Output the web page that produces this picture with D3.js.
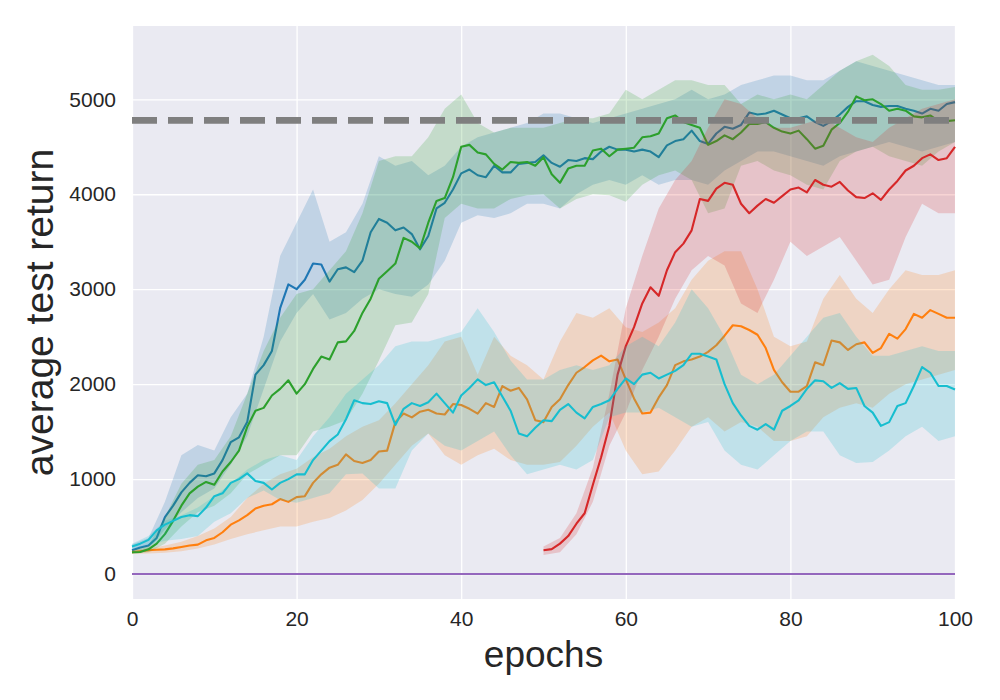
<!DOCTYPE html>
<html>
<head>
<meta charset="utf-8">
<script src="https://cdn.jsdelivr.net/npm/d3@7"></script>
<style>
  body { margin: 0; background: #ffffff; }
  text { font-family: "Liberation Sans", Arial, sans-serif; }
</style>
</head>
<body>
<svg id="chart" width="1000" height="700"></svg>
<script>
// mean curves, one value per epoch (index = epoch - start)
const blueMean = [250, 280, 300, 380, 600, 720, 860, 960, 1040, 1030, 1060, 1200, 1390, 1440, 1600, 2100, 2200, 2350, 2800, 3050,
  3000, 3100, 3270, 3260, 3080, 3210, 3230, 3180, 3300, 3600, 3740, 3700, 3620, 3650, 3580, 3420, 3560, 3850, 3910, 4050,
  4220, 4260, 4200, 4180, 4300, 4230, 4230, 4320, 4330, 4340, 4410, 4330, 4290, 4360, 4350, 4380, 4370, 4450, 4500, 4470,
  4470, 4450, 4470, 4450, 4390, 4515, 4560, 4580, 4670, 4560, 4530, 4640, 4710, 4690, 4730, 4860, 4840, 4850, 4880, 4840,
  4800, 4800, 4820, 4760, 4720, 4770, 4840, 4920, 4980, 4980, 4940, 4920, 4930, 4930, 4900, 4880, 4850, 4900, 4880, 4950, 4970];
const orangeMean = [230, 240, 250, 255, 260, 270, 285, 300, 310, 355, 380, 440, 520, 565, 620, 690, 720, 735, 790, 760,
  810, 820, 960, 1050, 1120, 1150, 1260, 1190, 1170, 1200, 1290, 1300, 1600, 1690, 1650, 1710, 1730, 1690, 1680, 1790,
  1780, 1740, 1690, 1800, 1760, 1980, 1930, 1960, 1840, 1620, 1600, 1760, 1840, 1990, 2120, 2180, 2250, 2300, 2240, 2260,
  2050, 1850, 1690, 1700, 1860, 1990, 2200, 2240, 2260, 2290, 2340, 2410, 2510, 2620, 2610, 2570, 2520, 2380, 2150, 2020,
  1920, 1920, 1980, 2230, 2200, 2460, 2440, 2360, 2420, 2440, 2330, 2380, 2530, 2480, 2580, 2740, 2700, 2780, 2740, 2700, 2700];
const greenMean = [230, 232, 260, 320, 420, 560, 720, 850, 920, 970, 940, 1080, 1180, 1300, 1550, 1720, 1750, 1880, 1950, 2040,
  1900, 2000, 2160, 2290, 2260, 2440, 2450, 2560, 2750, 2900, 3110, 3190, 3270, 3540, 3500, 3430, 3700, 3930, 3960, 4180,
  4500, 4520, 4440, 4420, 4320, 4260, 4340, 4330, 4340, 4300, 4390, 4210, 4120, 4270, 4300, 4300, 4460, 4480, 4400, 4470,
  4480, 4490, 4600, 4610, 4640, 4800, 4830, 4760, 4730, 4700, 4520, 4560, 4620, 4580, 4650, 4740, 4740, 4760, 4700, 4660,
  4640, 4670, 4580, 4480, 4510, 4680, 4750, 4870, 5030, 4990, 5000, 4950, 4880, 4900, 4880, 4820, 4810, 4830, 4770, 4770, 4780];
const redStart = 50;
const redMean = [250, 262, 320, 400, 530, 640, 940, 1230, 1560, 2100,
  2400, 2600, 2850, 3020, 2930, 3200, 3390, 3480, 3620, 3950, 3930, 4060, 4120, 4100, 3900, 3800, 3880, 3950, 3910, 3980,
  4050, 4070, 4020, 4150, 4100, 4080, 4130, 4040, 3970, 3960, 4010, 3940, 4050, 4140, 4250, 4300, 4380, 4420, 4360, 4380, 4500];
const cyanMean = [290, 320, 360, 460, 520, 560, 600, 620, 610, 700, 820, 850, 960, 1000, 1060, 980, 960, 890, 960, 1000,
  1050, 1050, 1200, 1300, 1400, 1470, 1630, 1830, 1800, 1790, 1820, 1800, 1570, 1740, 1800, 1770, 1810, 1900, 1800, 1700,
  1880, 1960, 2050, 1990, 2020, 1870, 1720, 1480, 1450, 1540, 1620, 1610, 1730, 1790, 1700, 1640, 1760, 1790, 1830, 1950,
  2060, 2000, 2100, 2120, 2060, 2100, 2140, 2200, 2320, 2320, 2290, 2260, 2000, 1800, 1670, 1560, 1520, 1580, 1520, 1720,
  1770, 1830, 1950, 2040, 2030, 1960, 2010, 1950, 1960, 1770, 1700, 1560, 1600, 1770, 1800, 1980, 2180, 2120, 1980, 1980, 1944];

// shaded spread, read every second epoch
const bandEpochs = [0, 2, 4, 6, 8, 10, 12, 14, 16, 18, 20, 22, 24, 26, 28, 30, 32, 34, 36, 38, 40, 42, 44, 46, 48, 50,
  52, 54, 56, 58, 60, 62, 64, 66, 68, 70, 72, 74, 76, 78, 80, 82, 84, 86, 88, 90, 92, 94, 96, 98, 100];
const blueLow = [220, 260, 470, 650, 800, 900, 1150, 1450, 1950, 2450, 2750, 2950, 2680, 2750, 2900, 3000, 2950, 2920, 3050, 3300,
  3700, 3780, 3750, 3800, 3900, 3900, 3850, 4000, 4100, 4150, 4100, 4200, 4100, 4150, 4150, 4100, 4250, 4350, 4450, 4450,
  4400, 4350, 4300, 4400, 4450, 4500, 4550, 4500, 4450, 4500, 4550];
const blueHigh = [310, 380, 760, 1250, 1360, 1300, 1650, 1900, 2500, 3350, 3700, 4050, 3500, 3600, 3900, 4400, 4300, 4350, 4200, 4300,
  4500, 4600, 4650, 4700, 4750, 4850, 4850, 4800, 4750, 4800, 4850, 4900, 4950, 5000, 5100, 5000, 5050, 5150, 5200, 5250,
  5250, 5200, 5200, 5300, 5400, 5350, 5300, 5250, 5200, 5150, 5150];
const orangeLow = [210, 215, 225, 240, 270, 310, 370, 420, 460, 500, 500, 550, 590, 670, 780, 950, 1150, 1350, 1480, 1250,
  1150, 1250, 1320, 1200, 1150, 1150, 1180, 1350, 1550, 1700, 1300, 1050, 1080, 1300, 1550, 1650, 1500, 1600, 1550, 1400,
  1400, 1450, 1650, 1750, 1800, 1750, 1900, 2000, 2050, 2100, 2150];
const orangeHigh = [250, 270, 300, 340, 400, 480, 600, 800, 950, 1050, 1110, 1230, 1320, 1450, 1550, 1620, 1800, 2000, 2200, 2450,
  2500, 2100, 2500, 2300, 2200, 2050, 2450, 2750, 2700, 2800, 2600, 2550, 2650, 2800, 3100, 3300, 3400, 3400, 3000, 2500,
  2400, 2450, 2900, 3150, 2900, 2750, 3000, 3200, 3150, 3150, 3200];
const greenLow = [210, 230, 320, 500, 650, 720, 850, 1050, 1150, 1250, 1250, 1500, 1550, 1620, 1900, 2250, 2620, 2650, 2950, 3750,
  3900, 3850, 3850, 3950, 3990, 4000, 3850, 3950, 4000, 3990, 3920, 4100, 4200, 4250, 4150, 3800, 3850, 4300, 4350, 4250,
  4200, 4100, 4050, 4350, 4450, 4500, 4400, 4350, 4300, 4450, 4550];
const greenHigh = [250, 300, 600, 950, 1150, 1200, 1450, 1900, 2350, 2700, 2950, 3000, 3200, 3400, 3800, 4350, 4400, 4400, 4600, 4900,
  5050, 4750, 4650, 4700, 4700, 4700, 4750, 4800, 4800, 4850, 5100, 5000, 5100, 5200, 5200, 5150, 5150, 4950, 5050, 5000,
  5050, 5000, 5150, 5300, 5400, 5470, 5350, 5150, 5100, 5100, 5130];
const redLow = [200, 230, 420, 760, 1350, 1700, 2150, 2500, 2900, 3200, 3350, 3250, 2850, 2750, 3100, 3500, 3350, 3450, 3550, 3300,
  3050, 3100, 3550, 3900, 3800, 3800];
const redHigh = [290, 380, 640, 1120, 1900, 2800, 3350, 3850, 4150, 4350, 4700, 5000, 4950, 4800, 4700, 4700, 4750, 4800, 4700, 4600,
  4550, 4700, 4800, 4900, 4950, 5000];
const cyanLow = [260, 300, 350, 370, 400, 550, 640, 800, 880, 780, 750, 800, 850, 1050, 1060, 900, 900, 1300, 1480, 1350,
  1300, 1400, 1500, 1250, 1050, 1100, 1150, 1100, 1200, 1650, 1700, 1700, 1750, 1650, 1550, 1600, 1300, 1150, 1100, 1250,
  1400, 1500, 1500, 1250, 1170, 1180, 1300, 1450, 1550, 1400, 1450];
const cyanHigh = [320, 400, 560, 620, 700, 820, 950, 1100, 1200, 1250, 1200, 1450, 1650, 1900, 2050, 2200, 2400, 2450, 2450, 2500,
  2550, 2800, 2550, 2250, 2050, 2050, 2150, 2200, 2150, 2200, 2400, 2500, 2400, 2650, 3000, 2800, 2500, 2100, 2000, 2100,
  2300, 2500, 2700, 2750, 2500, 2300, 2300, 2350, 2400, 2350, 2350];

const targetReturn = 4779;
const zeroReturn = 0;
const xTicks = [0, 20, 40, 60, 80, 100];
const yTicks = [0, 1000, 2000, 3000, 4000, 5000];

const PLOT = { left: 132, right: 955, top: 26, bottom: 599 };

const svg = d3.select('#chart');

const x = d3.scaleLinear().domain([0, 100]).range([PLOT.left, PLOT.right]);
const y = d3.scaleLinear().domain([-263, 5772]).range([PLOT.bottom, PLOT.top]);

svg.append('rect')
  .attr('x', PLOT.left)
  .attr('y', PLOT.top)
  .attr('width', PLOT.right - PLOT.left)
  .attr('height', PLOT.bottom - PLOT.top)
  .attr('fill', '#eaeaf2');

// white grid
svg.append('g')
  .attr('transform', 'translate(0,' + PLOT.bottom + ')')
  .call(d3.axisBottom(x).tickValues(xTicks).tickSize(-(PLOT.bottom - PLOT.top)).tickFormat(''))
  .call(g => g.select('.domain').remove())
  .call(g => g.selectAll('line').attr('stroke', '#ffffff').attr('stroke-width', 1.3));

svg.append('g')
  .attr('transform', 'translate(' + PLOT.left + ',0)')
  .call(d3.axisLeft(y).tickValues(yTicks).tickSize(-(PLOT.right - PLOT.left)).tickFormat(''))
  .call(g => g.select('.domain').remove())
  .call(g => g.selectAll('line').attr('stroke', '#ffffff').attr('stroke-width', 1.3));

// tick labels
svg.append('g')
  .attr('transform', 'translate(0,' + PLOT.bottom + ')')
  .call(d3.axisBottom(x).tickValues(xTicks).tickSize(0).tickPadding(12).tickFormat(d3.format('d')))
  .call(g => g.select('.domain').remove())
  .call(g => g.selectAll('text')
    .style('font-family', '"Liberation Sans", Arial, sans-serif')
    .style('font-size', '21px')
    .attr('fill', '#262626'));

svg.append('g')
  .attr('transform', 'translate(' + PLOT.left + ',0)')
  .call(d3.axisLeft(y).tickValues(yTicks).tickSize(0).tickPadding(16).tickFormat(d3.format('d')))
  .call(g => g.select('.domain').remove())
  .call(g => g.selectAll('text')
    .style('font-family', '"Liberation Sans", Arial, sans-serif')
    .style('font-size', '21px')
    .attr('fill', '#262626'));

svg.append('text')
  .attr('x', (PLOT.left + PLOT.right) / 2)
  .attr('y', 667)
  .attr('text-anchor', 'middle')
  .style('font-size', '37px')
  .attr('fill', '#262626')
  .text('epochs');

svg.append('text')
  .attr('transform', 'translate(53,' + (PLOT.top + PLOT.bottom) / 2 + ') rotate(-90)')
  .attr('text-anchor', 'middle')
  .style('font-size', '39px')
  .attr('fill', '#262626')
  .text('average test return');

const plot = svg.append('g');

function drawRun(mean, start, low, high, color) {
  let band = bandEpochs
    .filter(e => e >= start)
    .map((e, i) => ({ e: e, lo: low[i], hi: high[i] }));
  let pts = mean.map((v, i) => ({ e: start + i, v: v }));

  plot.append('path')
    .datum(band)
    .attr('d', d3.area().x(d => x(d.e)).y0(d => y(d.lo)).y1(d => y(d.hi)))
    .attr('fill', color)
    .attr('fill-opacity', 0.2)
    .attr('stroke', 'none');

  plot.append('path')
    .datum(pts)
    .attr('d', d3.line().x(d => x(d.e)).y(d => y(d.v)))
    .attr('fill', 'none')
    .attr('stroke', color)
    .attr('stroke-width', 2.1)
    .attr('stroke-linejoin', 'round');
}

drawRun(blueMean, 0, blueLow, blueHigh, '#1f77b4');
drawRun(orangeMean, 0, orangeLow, orangeHigh, '#ff7f0e');
drawRun(greenMean, 0, greenLow, greenHigh, '#2ca02c');
drawRun(redMean, redStart, redLow, redHigh, '#d62728');

plot.append('line')
  .attr('x1', x(0)).attr('x2', x(100))
  .attr('y1', y(zeroReturn)).attr('y2', y(zeroReturn))
  .attr('stroke', '#9467bd')
  .attr('stroke-width', 2);

plot.append('line')
  .attr('x1', x(0)).attr('x2', x(100))
  .attr('y1', y(targetReturn)).attr('y2', y(targetReturn))
  .attr('stroke', '#7f7f7f')
  .attr('stroke-width', 6.7)
  .attr('stroke-dasharray', '25,11');

drawRun(cyanMean, 0, cyanLow, cyanHigh, '#17becf');
</script>
</body>
</html>
